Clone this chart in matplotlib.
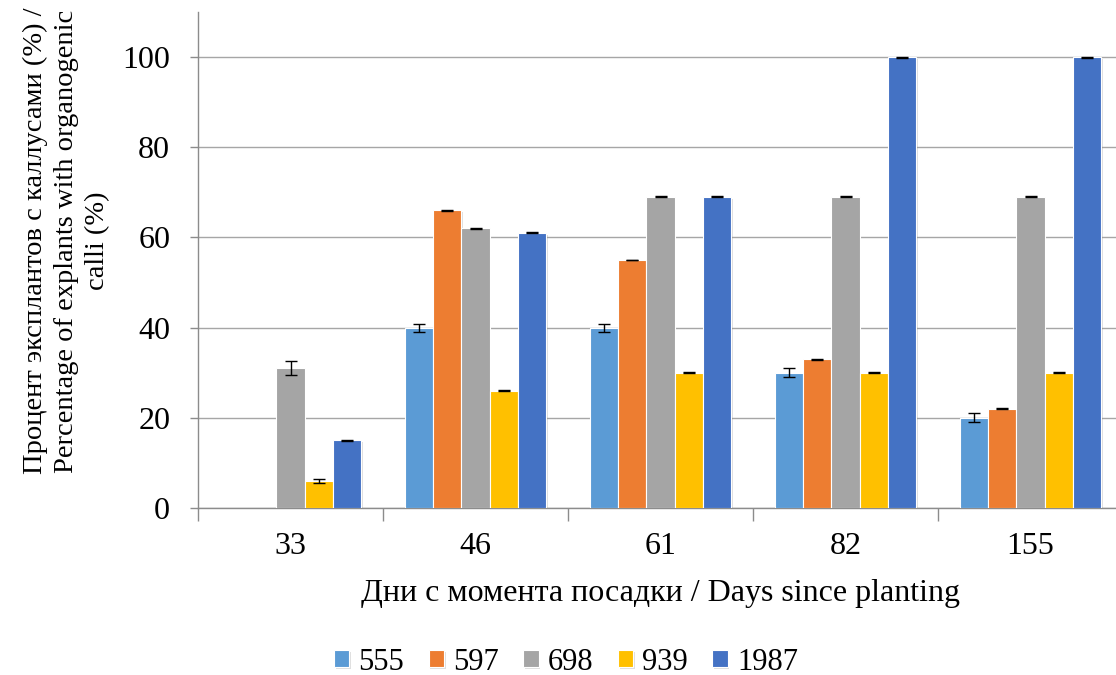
import matplotlib.pyplot as plt
import matplotlib.patheffects as pe
import numpy as np

days = ["33", "46", "61", "82", "155"]
series = ["555", "597", "698", "939", "1987"]
colors = ["#5B9BD5", "#ED7D31", "#A5A5A5", "#FFC000", "#4472C4"]

values = {
    "555": [0, 40, 40, 30, 20],
    "597": [0, 66, 55, 33, 22],
    "698": [31, 62, 69, 69, 69],
    "939": [6, 26, 30, 30, 30],
    "1987": [15, 61, 69, 100, 100],
}
errors = {
    "555": [0, 0.9, 0.9, 1.0, 1.0],
    "597": [0, 0.1, 0.1, 0.1, 0.1],
    "698": [1.5, 0.1, 0.1, 0.1, 0.1],
    "939": [0.5, 0.1, 0.1, 0.1, 0.1],
    "1987": [0.1, 0.1, 0.1, 0.1, 0.1],
}
# bars that are absent in the source (no data)
missing = {"555": [0], "597": [0]}

plt.rcParams["font.family"] = ["Liberation Serif", "DejaVu Serif"]

fig = plt.figure(figsize=(11.16, 6.75), dpi=100)
ax = fig.add_axes([198 / 1116, 167 / 675, 925 / 1116, 496 / 675])

x = np.arange(len(days))
w = 0.1535
shadow = [pe.SimplePatchShadow(offset=(1.2, -1.2), shadow_rgbFace="#808080", alpha=0.25), pe.Normal()]
for i, (s, c) in enumerate(zip(series, colors)):
    pos = x + (i - 2) * w
    keep = [j for j in range(len(days)) if j not in missing.get(s, [])]
    bars = ax.bar(pos[keep], np.array(values[s])[keep], width=w, color=c,
                  edgecolor="white", linewidth=0.8, label=s, zorder=3)
    for b in bars:
        b.set_path_effects(shadow)
    ax.errorbar(pos[keep], np.array(values[s])[keep],
                yerr=np.array(errors[s])[keep], fmt="none", ecolor="black",
                elinewidth=1.0, capsize=4.5, capthick=1.0, zorder=4)

ax.set_xlim(-0.5, 4.5)
ax.set_ylim(0, 110)
ax.set_yticks(range(0, 101, 20))
ax.grid(axis="y", color="#A6A6A6", linewidth=1.0, zorder=0)

ax.set_xticks(np.arange(-0.5, 5.0, 1.0))
ax.set_xticklabels([])
ax.set_xticks(x, minor=True)
ax.set_xticklabels(days, minor=True)
ax.tick_params(axis="x", which="major", length=9, width=1, color="#8C8C8C", direction="out")
ax.tick_params(axis="x", which="minor", length=0, pad=17, labelsize=23)
ax.tick_params(axis="y", length=6, width=1, color="#8C8C8C", labelsize=23, pad=14)

for side in ["top", "right"]:
    ax.spines[side].set_visible(False)
for side in ["left", "bottom"]:
    ax.spines[side].set_color("#8C8C8C")
    ax.spines[side].set_linewidth(1.0)

ax.set_xlabel("Дни с момента посадки / Days since planting", fontsize=23, labelpad=13)
ax.set_ylabel("Процент эксплантов с каллусами (%) /\nPercentage of explants with organogenic\ncalli (%)",
              fontsize=20.5, linespacing=1.32)
ax.yaxis.set_label_coords(-0.095, 0.538)

ax.legend(loc="center", bbox_to_anchor=(566 / 1116, 13 / 675), bbox_transform=fig.transFigure,
          ncol=5, frameon=False, fontsize=22, handlelength=0.5, handleheight=0.5,
          handletextpad=0.3, columnspacing=0.8)

fig.savefig("out.png", dpi=100)
